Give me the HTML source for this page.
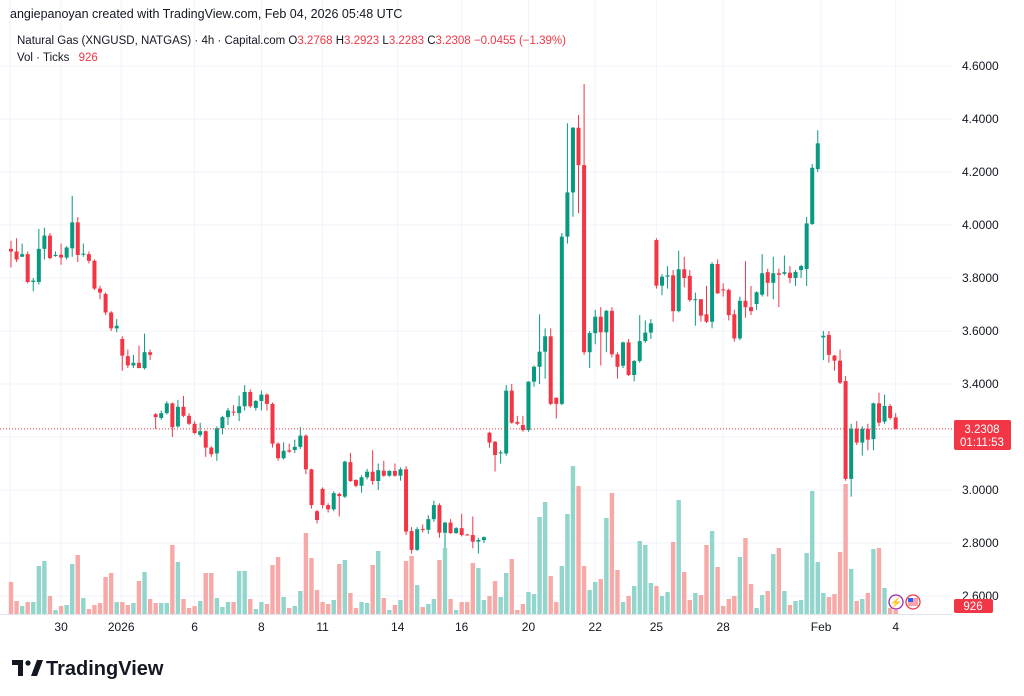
<!DOCTYPE html>
<html><head><meta charset="utf-8"><style>
html,body{margin:0;padding:0;background:#fff;width:1024px;height:696px;overflow:hidden;font-family:"Liberation Sans",sans-serif;}
svg{display:block}
</style></head><body>
<svg id="chart" width="1024" height="696" viewBox="0 0 1024 696" xmlns="http://www.w3.org/2000/svg" font-family="Liberation Sans, sans-serif">
<rect x="0" y="0" width="1024" height="696" fill="#fff"/>
<g id="grid"></g>
<g id="vols"></g>
<g id="candles"></g>
<line id="lastline" x1="0" x2="952" y1="0" y2="0" stroke="#f23645" stroke-width="1" stroke-dasharray="1,2"/>
<g id="yaxis"></g>
<g id="xaxis"></g>
<text x="10" y="18" font-size="12.5" fill="#131722">angiepanoyan created with TradingView.com, Feb 04, 2026 05:48 UTC</text>
<text x="17" y="44" font-size="11.5" fill="#131722">Natural Gas (XNGUSD, NATGAS) · 4h · Capital.com <tspan fill="#131722">O</tspan><tspan fill="#f23645">3.2768 </tspan><tspan fill="#131722">H</tspan><tspan fill="#f23645">3.2923 </tspan><tspan fill="#131722">L</tspan><tspan fill="#f23645">3.2283 </tspan><tspan fill="#131722">C</tspan><tspan fill="#f23645">3.2308 −0.0455 (−1.39%)</tspan></text>
<text x="17" y="61" font-size="11.5" fill="#131722">Vol · Ticks <tspan fill="#f23645" dx="6">926</tspan></text>
<g>
<rect x="954" y="420" width="57" height="30" rx="2" fill="#f23645"/>
<text x="982" y="433" font-size="11.5" fill="#fff" text-anchor="middle">3.2308</text>
<text x="982" y="446" font-size="11.5" fill="#fff" text-anchor="middle">01:11:53</text>
</g>
<g>
<rect x="954" y="599" width="39" height="14" rx="2" fill="#f23645"/>
<text x="973" y="610" font-size="11.5" fill="#fff" text-anchor="middle">926</text>
</g>
<g>
<circle cx="896" cy="602" r="7" fill="#fff" stroke="#9c27b0" stroke-width="1.3"/>
<text x="896" y="606" font-size="10" fill="#9c27b0" text-anchor="middle">⚡</text>
<circle cx="913" cy="602" r="7" fill="#fff" stroke="#f23645" stroke-width="1.3"/>
<rect x="908" y="598" width="10" height="8" fill="#f7a3a9"/>
<rect x="908" y="598" width="5" height="4" fill="#2962ff"/>
</g>
<g>
<path d="M12 660 h11 v16 h-5 v-11 h-6z" fill="#131722"/>
<circle cx="28" cy="663" r="2.6" fill="#131722"/>
<path d="M31 676 l6 -16 h6 l-6 16z" fill="#131722"/>
<text x="46" y="675" font-size="20" font-weight="bold" fill="#131722">TradingView</text>
</g>
</svg>
<script>
const opens=[3.91,3.90,3.88,3.89,3.785,3.785,3.91,3.96,3.883,3.888,3.877,3.912,4.01,3.888,3.89,3.865,3.76,3.74,3.67,3.61,3.57,3.505,3.47,3.48,3.46,3.52,3.286,3.272,3.29,3.327,3.24,3.314,3.28,3.25,3.208,3.222,3.16,3.138,3.233,3.275,3.296,3.29,3.316,3.37,3.31,3.336,3.36,3.325,3.175,3.12,3.15,3.151,3.163,3.205,3.078,2.92,3.004,2.943,2.927,2.985,2.975,3.105,3.038,3.016,3.048,3.069,3.034,3.073,3.054,3.072,3.054,3.078,2.845,2.774,2.853,2.85,2.89,2.943,2.839,2.877,2.837,2.856,2.832,2.83,2.805,2.811,3.216,3.182,3.138,3.138,3.375,3.257,3.245,3.226,3.409,3.465,3.522,3.58,3.348,3.325,3.956,4.123,4.367,4.226,3.52,3.592,3.654,3.595,3.676,3.512,3.469,3.557,3.434,3.487,3.562,3.594,3.943,3.771,3.805,3.81,3.675,3.833,3.808,3.72,3.72,3.663,3.635,3.853,3.757,3.755,3.663,3.572,3.714,3.69,3.702,3.737,3.822,3.782,3.818,3.816,3.82,3.80,3.83,3.834,4.004,4.211,3.576,3.585,3.507,3.488,3.411,3.042,3.231,3.179,3.231,3.192,3.327,3.258,3.317,3.274];
const closes=[3.90,3.87,3.89,3.785,3.79,3.91,3.96,3.875,3.887,3.877,3.915,4.01,3.887,3.892,3.865,3.76,3.745,3.67,3.61,3.62,3.507,3.47,3.48,3.46,3.52,3.51,3.275,3.29,3.327,3.237,3.314,3.28,3.25,3.215,3.222,3.16,3.135,3.233,3.275,3.30,3.294,3.316,3.37,3.316,3.336,3.36,3.325,3.175,3.12,3.148,3.145,3.163,3.205,3.078,2.943,2.887,2.943,2.927,2.988,2.977,3.107,3.034,3.016,3.048,3.069,3.034,3.075,3.054,3.072,3.054,3.078,2.843,2.774,2.852,2.85,2.89,2.943,2.839,2.877,2.837,2.856,2.83,2.83,2.805,2.811,2.822,3.179,3.132,3.142,3.375,3.254,3.25,3.226,3.409,3.465,3.522,3.58,3.325,3.325,3.956,4.123,4.367,4.226,3.52,3.592,3.654,3.595,3.676,3.512,3.465,3.557,3.434,3.487,3.562,3.594,3.629,3.771,3.805,3.81,3.675,3.833,3.80,3.717,3.72,3.658,3.635,3.853,3.742,3.753,3.66,3.572,3.714,3.69,3.675,3.746,3.818,3.782,3.818,3.812,3.822,3.80,3.823,3.845,4.006,4.216,4.308,3.582,3.51,3.488,3.405,3.042,3.231,3.179,3.231,3.19,3.327,3.254,3.317,3.272,3.231];
const highs=[3.94,3.95,3.93,3.90,3.80,3.985,3.99,3.97,3.90,3.93,3.92,4.11,4.03,3.93,3.90,3.87,3.77,3.745,3.675,3.645,3.58,3.53,3.51,3.545,3.59,3.53,3.29,3.30,3.335,3.33,3.34,3.355,3.29,3.26,3.254,3.225,3.165,3.24,3.28,3.31,3.32,3.356,3.396,3.38,3.34,3.375,3.365,3.33,3.18,3.18,3.175,3.19,3.237,3.21,3.08,2.925,3.01,2.95,2.995,2.99,3.11,3.14,3.04,3.055,3.08,3.15,3.10,3.11,3.075,3.10,3.085,3.09,2.86,2.86,2.87,2.905,2.96,2.95,2.88,2.89,2.86,2.91,2.835,2.90,2.82,2.825,3.22,3.185,3.15,3.396,3.40,3.28,3.28,3.41,3.47,3.663,3.61,3.61,3.35,3.97,4.384,4.37,4.415,4.532,3.60,3.68,3.69,3.68,3.69,3.52,3.56,3.57,3.49,3.66,3.64,3.645,3.95,3.815,3.845,3.83,3.903,3.88,3.83,3.745,3.72,3.77,3.86,3.87,3.78,3.76,3.68,3.73,3.864,3.77,3.75,3.89,3.835,3.88,3.835,3.885,3.845,3.83,3.85,4.03,4.23,4.358,3.60,3.60,3.51,3.53,3.43,3.25,3.26,3.24,3.25,3.33,3.367,3.36,3.325,3.29];
const lows=[3.84,3.86,3.88,3.78,3.75,3.775,3.87,3.87,3.88,3.85,3.87,3.88,3.86,3.88,3.855,3.755,3.72,3.66,3.60,3.595,3.45,3.46,3.46,3.46,3.455,3.49,3.23,3.265,3.285,3.20,3.235,3.275,3.245,3.21,3.20,3.125,3.125,3.11,3.21,3.245,3.28,3.26,3.30,3.31,3.30,3.30,3.30,3.16,3.11,3.115,3.14,3.14,3.155,3.06,2.93,2.874,2.93,2.915,2.92,2.90,2.97,3.03,3.01,2.99,3.04,3.02,3.0,3.05,3.05,3.05,3.035,2.83,2.76,2.77,2.84,2.835,2.88,2.82,2.78,2.835,2.835,2.825,2.828,2.78,2.76,2.80,3.16,3.07,3.10,3.13,3.25,3.245,3.22,3.22,3.39,3.40,3.42,3.32,3.27,3.32,3.93,4.031,4.045,3.51,3.46,3.55,3.47,3.52,3.50,3.42,3.46,3.43,3.41,3.48,3.555,3.57,3.76,3.735,3.76,3.635,3.67,3.765,3.71,3.62,3.635,3.63,3.61,3.74,3.73,3.64,3.56,3.565,3.65,3.66,3.68,3.73,3.73,3.72,3.69,3.81,3.78,3.77,3.80,3.77,4.00,4.20,3.49,3.48,3.45,3.40,3.035,2.975,3.17,3.13,3.15,3.15,3.24,3.25,3.265,3.228];
const volumes=[640,260,160,240,240,960,1060,360,80,160,180,1000,1180,320,100,180,220,740,820,240,240,180,220,660,840,300,220,220,220,1380,1040,300,120,160,260,820,820,320,140,240,240,860,860,300,100,240,200,980,1140,340,120,160,460,1620,1120,480,240,200,280,1000,1080,420,120,240,220,980,1260,320,80,180,280,1060,1160,580,140,200,300,1080,1320,300,80,240,240,1020,920,280,360,660,340,820,1100,80,200,440,400,1940,2240,760,240,960,2000,2960,2560,960,480,640,700,1920,2420,880,240,360,560,1460,1380,620,560,360,440,1440,2280,840,280,420,380,1380,1660,940,160,300,360,1140,1520,600,120,380,460,1200,1320,460,180,260,280,1220,2460,1040,420,340,400,1240,2600,900,260,300,420,1300,1320,520,120,80];
const priceTicks=[2.6,2.8,3.0,3.2,3.4,3.6,3.8,4.0,4.2,4.4,4.6];
const dateLabels=["30","2026","6","8","11","14","16","20","22","25","28","Feb","4"];
const dateIndex=[9,19.8,33,45,56,69.5,81,93,105,116,128,145.6,159];
const lastPrice=3.2308;

const NS="http://www.w3.org/2000/svg";
function yP(p){return 66+(4.6-p)*265;}
function xI(i){return 11+i*5.564;}
const vmax=Math.max(...volumes);
function yV(v){return 614-v/vmax*148;}
function mk(tag,attrs,parent){const e=document.createElementNS(NS,tag);for(const k in attrs)e.setAttribute(k,attrs[k]);parent.appendChild(e);return e;}

const grid=document.getElementById('grid');
priceTicks.forEach(p=>{
  const l=mk('line',{x1:0,x2:952,y1:yP(p),y2:yP(p),stroke:'#f0f3fa','stroke-width':1},grid);
  
  
});
dateIndex.forEach(i=>{
  const l=mk('line',{x1:xI(i),x2:xI(i),y1:0,y2:614,stroke:'#f0f3fa','stroke-width':1},grid);
  
  
});
mk('line',{x1:10,x2:10,y1:0,y2:614,stroke:'#f0f3fa'},grid);

const vg=document.getElementById('vols');
volumes.forEach((v,i)=>{
  const up=closes[i]>=opens[i];
  const r=mk('rect',{x:xI(i)-2.2,y:yV(v),width:4.4,height:614-yV(v),fill:up?'#92d5cc':'#f7a9a7'},vg);
  
  
});

const cg=document.getElementById('candles');
opens.forEach((o,i)=>{
  const c=closes[i],up=c>=o,col=up?'#089981':'#f23645',x=xI(i);
  const g=mk('g',{},cg);
  
  
  mk('line',{x1:x,x2:x,y1:yP(highs[i]),y2:yP(lows[i]),stroke:col,'stroke-width':1},g);
  const top=yP(Math.max(o,c)),h=Math.max(1,yP(Math.min(o,c))-top);
  mk('rect',{x:x-2,y:top,width:4,height:h,fill:col},g);
});

const ll=document.getElementById('lastline');
ll.setAttribute('y1',yP(lastPrice));ll.setAttribute('y2',yP(lastPrice));

const ya=document.getElementById('yaxis');
priceTicks.forEach(p=>{
  const t=mk('text',{x:962,y:yP(p)+4,'font-size':12,fill:'#131722'},ya);
  t.textContent=p.toFixed(4);
  
  
});
const xa=document.getElementById('xaxis');
mk('line',{x1:0,x2:952,y1:614.5,y2:614.5,stroke:'#e0e3eb'},xa);
dateLabels.forEach((d,k)=>{
  const t=mk('text',{x:xI(dateIndex[k]),y:631,'font-size':12,fill:'#131722','text-anchor':'middle'},xa);
  t.textContent=d;
  
  
});
</script>
</body></html>
